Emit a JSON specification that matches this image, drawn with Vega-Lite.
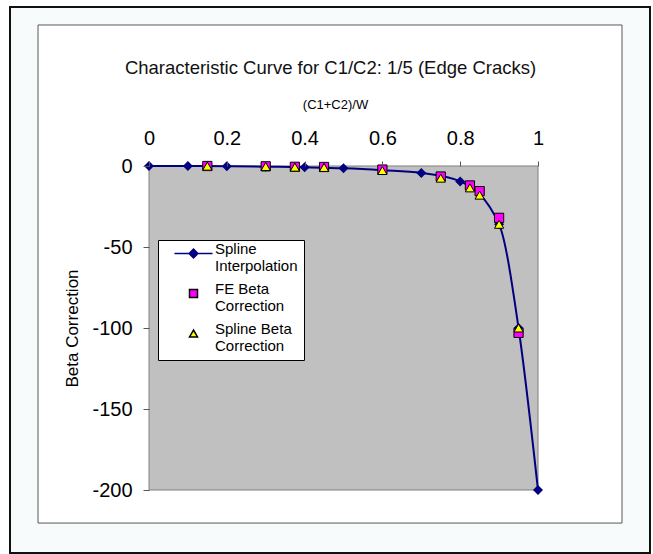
{
  "$schema": "https://vega.github.io/schema/vega-lite/v6.json",
  "width": 389,
  "height": 324,
  "autosize": {"type": "none"},
  "padding": {"left": 149, "top": 166, "right": 115, "bottom": 64},
  "background": "white",
  "config": {"view": {"stroke": null}, "font": "Liberation Sans"},
  "title": {
    "text": "Characteristic Curve for C1/C2: 1/5 (Edge Cracks)",
    "font": "Liberation Sans",
    "fontSize": 18.5,
    "fontWeight": "normal",
    "color": "#111111",
    "offset": -71.5,
    "dx": -13,
    "zindex": 1
  },
  "data": {
    "values": [
      {"x": 0, "y": 0, "series": "Spline Interpolation"},
      {"x": 0.1, "y": 0, "series": "Spline Interpolation"},
      {"x": 0.2, "y": -0.1, "series": "Spline Interpolation"},
      {"x": 0.3, "y": -0.4, "series": "Spline Interpolation"},
      {"x": 0.4, "y": -0.8, "series": "Spline Interpolation"},
      {"x": 0.5, "y": -1.4, "series": "Spline Interpolation"},
      {"x": 0.6, "y": -2.6, "series": "Spline Interpolation"},
      {"x": 0.7, "y": -4.3, "series": "Spline Interpolation"},
      {"x": 0.8, "y": -9.5, "series": "Spline Interpolation"},
      {"x": 0.9, "y": -36, "series": "Spline Interpolation"},
      {"x": 0.95, "y": -100, "series": "Spline Interpolation"},
      {"x": 1, "y": -200, "series": "Spline Interpolation"},
      {"x": 0.15, "y": 0, "series": "FE Beta Correction"},
      {"x": 0.3, "y": -0.2, "series": "FE Beta Correction"},
      {"x": 0.375, "y": -0.5, "series": "FE Beta Correction"},
      {"x": 0.45, "y": -0.6, "series": "FE Beta Correction"},
      {"x": 0.6, "y": -2.2, "series": "FE Beta Correction"},
      {"x": 0.75, "y": -6.5, "series": "FE Beta Correction"},
      {"x": 0.825, "y": -12, "series": "FE Beta Correction"},
      {"x": 0.85, "y": -15.5, "series": "FE Beta Correction"},
      {"x": 0.9, "y": -32, "series": "FE Beta Correction"},
      {"x": 0.95, "y": -103, "series": "FE Beta Correction"},
      {"x": 0.15, "y": -0.1, "series": "Spline Beta Correction"},
      {"x": 0.3, "y": -0.3, "series": "Spline Beta Correction"},
      {"x": 0.375, "y": -0.7, "series": "Spline Beta Correction"},
      {"x": 0.45, "y": -0.9, "series": "Spline Beta Correction"},
      {"x": 0.6, "y": -2.8, "series": "Spline Beta Correction"},
      {"x": 0.75, "y": -7.5, "series": "Spline Beta Correction"},
      {"x": 0.825, "y": -13.5, "series": "Spline Beta Correction"},
      {"x": 0.85, "y": -18, "series": "Spline Beta Correction"},
      {"x": 0.9, "y": -36, "series": "Spline Beta Correction"},
      {"x": 0.95, "y": -100, "series": "Spline Beta Correction"}
    ]
  },
  "layer": [
    {
      "data": {"values": [{}]},
      "mark": {"type": "rect", "fill": "#F7FBFB", "stroke": "#111111", "strokeWidth": 2},
      "encoding": {
        "x": {
          "datum": -0.3573, "type": "quantitative",
          "scale": {"domain": [0, 1], "nice": false, "zero": false},
          "axis": {
            "orient": "top", "values": [0, 0.2, 0.4, 0.6, 0.8, 1], "format": "~g",
            "title": "(C1+C2)/W", "titleFont": "Liberation Sans", "titleFontSize": 13, "titleFontWeight": "normal", "titleColor": "#000", "titlePadding": 17, "titleX": 186,
            "labelFont": "Liberation Sans", "labelFontSize": 20, "labelColor": "#000", "labelPadding": 13, "labelFlush": false, "labelOverlap": false,
            "domain": false, "grid": false, "ticks": true, "tickSize": 5, "tickColor": "#555555", "zindex": 1
          }
        },
        "x2": {"datum": 1.2879},
        "y": {
          "datum": 98.15, "type": "quantitative",
          "scale": {"domain": [-200, 0], "nice": false, "zero": false},
          "axis": {
            "orient": "left", "values": [0, -50, -100, -150, -200], "labelExpr": "'' + datum.value",
            "title": "Beta Correction", "titleFont": "Liberation Sans", "titleFontSize": 17, "titleFontWeight": "normal", "titleColor": "#000", "titlePadding": 10,
            "labelFont": "Liberation Sans", "labelFontSize": 20, "labelColor": "#000", "labelPadding": 11, "labelFlush": false, "labelOverlap": false,
            "domain": false, "grid": false, "ticks": true, "tickSize": 6, "tickColor": "#555555", "zindex": 1
          }
        },
        "y2": {"datum": -238.9}
      }
    },
    {
      "data": {"values": [{}]},
      "mark": {"type": "rect", "fill": "#FFFFFF", "stroke": "#5a5a5a", "strokeWidth": 1},
      "encoding": {
        "x": {"datum": -0.2853, "type": "quantitative"},
        "x2": {"datum": 1.2159},
        "y": {"datum": 87.04, "type": "quantitative"},
        "y2": {"datum": -220.4}
      }
    },
    {
      "data": {"values": [{}]},
      "mark": {"type": "rect", "fill": "#C0C0C0", "stroke": "#808080", "strokeWidth": 1},
      "encoding": {
        "x": {"datum": 0, "type": "quantitative"},
        "x2": {"datum": 1},
        "y": {"datum": 0, "type": "quantitative"},
        "y2": {"datum": -200}
      }
    },
    {
      "transform": [{"filter": "datum.series == 'Spline Interpolation'"}],
      "mark": {"type": "line", "color": "#000080", "strokeWidth": 2, "interpolate": "monotone"},
      "encoding": {
        "x": {"field": "x", "type": "quantitative"},
        "y": {"field": "y", "type": "quantitative"}
      }
    },
    {
      "transform": [{"filter": "datum.series == 'Spline Interpolation'"}],
      "mark": {"type": "point", "shape": "diamond", "filled": true, "color": "#000080", "size": 100, "opacity": 1},
      "encoding": {
        "x": {"field": "x", "type": "quantitative"},
        "y": {"field": "y", "type": "quantitative"}
      }
    },
    {
      "transform": [{"filter": "datum.series != 'Spline Interpolation'"}],
      "mark": {"type": "point", "filled": true, "size": 85, "strokeWidth": 1, "opacity": 1},
      "encoding": {
        "x": {"field": "x", "type": "quantitative"},
        "y": {"field": "y", "type": "quantitative"},
        "shape": {
          "field": "series", "type": "nominal",
          "scale": {
            "domain": ["Spline Interpolation", "FE Beta Correction", "Spline Beta Correction"],
            "range": ["M-4.75,0H4.75M-1.1,0L0,-1.1L1.1,0L0,1.1Z", "square", "triangle-up"]
          },
          "legend": {
            "title": null, "orient": "none", "legendX": 9, "legendY": 74,
            "padding": 6, "strokeColor": "#000000", "fillColor": "#FFFFFF",
            "symbolSize": 64, "symbolStrokeWidth": 1.5, "symbolOffset": 22, "labelOffset": 14,
            "labelFont": "Liberation Sans", "labelFontSize": 15, "labelColor": "#000000", "labelLimit": 300, "labelBaseline": "alphabetic",
            "rowPadding": 7, "zindex": 1,
            "labelExpr": "datum.label == 'Spline Interpolation' ? ['Spline', 'Interpolation  '] : datum.label == 'FE Beta Correction' ? ['FE Beta', 'Correction'] : ['Spline Beta', 'Correction']"
          }
        },
        "fill": {
          "field": "series", "type": "nominal",
          "scale": {
            "domain": ["Spline Interpolation", "FE Beta Correction", "Spline Beta Correction"],
            "range": ["#000080", "#FF00FF", "#FFFF00"]
          }
        },
        "stroke": {
          "field": "series", "type": "nominal",
          "scale": {
            "domain": ["Spline Interpolation", "FE Beta Correction", "Spline Beta Correction"],
            "range": ["#000080", "#000000", "#000000"]
          }
        }
      }
    }
  ]
}
